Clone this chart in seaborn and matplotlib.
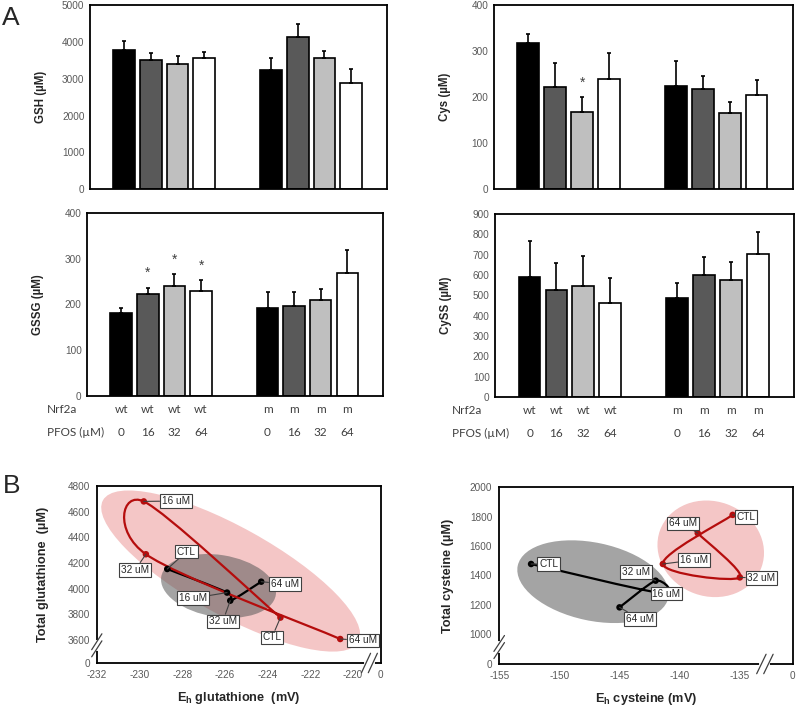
import numpy as np
import pandas as pd
import matplotlib
matplotlib.use('Agg')
import matplotlib.pyplot as plt
import matplotlib.transforms as mtransforms
import seaborn as sns
from matplotlib.patches import Ellipse, PathPatch
from matplotlib.path import Path

# ---------------- panel A data (mean, upper error) ----------------
genotypes = ['wt', 'wt', 'wt', 'wt', 'm', 'm', 'm', 'm']
doses = ['0', '16', '32', '64', '0', '16', '32', '64']
dose_levels = ['0', '16', '32', '64']
bar_colors = ['black', '#595959', '#bfbfbf', 'white']

gsh = [3770, 3505, 3405, 3550, 3225, 4130, 3560, 2890]
gsh_err = [250, 185, 215, 170, 335, 345, 200, 370]
cys = [318, 222, 167, 239, 224, 217, 166, 205]
cys_err = [20, 51, 34, 57, 54, 29, 23, 32]
gssg = [181, 222, 241, 229, 193, 197, 210, 269]
gssg_err = [12, 15, 26, 25, 34, 30, 24, 51]
cyss = [591, 526, 547, 465, 488, 600, 576, 703]
cyss_err = [176, 134, 146, 121, 74, 88, 89, 107]

cys_sig = [False, False, True, False, False, False, False, False]
gssg_sig = [False, True, True, True, False, False, False, False]

# ---------------- panel B data (order: CTL, 16, 32, 64 uM) ----------------
point_names = ['CTL', '16 uM', '32 uM', '64 uM']

glut_wt_eh = [-228.7, -225.9, -225.75, -224.3]
glut_wt_tot = [4153, 3969, 3906, 4054]
glut_m_eh = [-223.4, -229.8, -229.7, -220.6]
glut_m_tot = [3774, 4680, 4268, 3607]

cyst_wt_eh = [-152.35, -141.65, -142.0, -145.0]
cyst_wt_tot = [1478, 1282, 1365, 1184]
cyst_m_eh = [-135.6, -141.4, -135.0, -138.5]
cyst_m_tot = [1811, 1478, 1387, 1687]

# label box centres (data coords)
glut_wt_lab = [(-227.8, 4288), (-227.5, 3925), (-226.1, 3745), (-223.2, 4036)]
glut_m_lab = [(-223.8, 3619), (-228.3, 4683), (-230.2, 4147), (-219.55, 3596)]
cyst_wt_lab = [(-150.9, 1478), (-141.1, 1277), (-143.65, 1422), (-143.3, 1105)]
cyst_m_lab = [(-134.5, 1797), (-138.8, 1505), (-133.2, 1383), (-139.75, 1753)]

sns.set_style('white')
plt.rcParams['font.family'] = ['Liberation Sans', 'DejaVu Sans']
plt.rcParams['mathtext.fontset'] = 'custom'
plt.rcParams['mathtext.rm'] = 'Liberation Sans'
plt.rcParams['mathtext.bf'] = 'Liberation Sans:bold'

TICK_GRAY = '#595959'
RED = '#b50d0d'

fig = plt.figure(figsize=(8, 7.09), dpi=100)

# bar positions: 4 per genotype, gap between groups
positions = [i % 4 + 5.5 * (i // 4) for i in range(len(doses))]


def bar_panel(rect, values, errs, ylabel, ymax, step, sig=None, xrows=False, row_x=-0.14):
    ax = fig.add_axes(rect)
    df = pd.DataFrame({'pos': positions, 'dose': doses, 'val': values})
    sns.barplot(data=df, x='pos', y='val', hue='dose', hue_order=dose_levels,
                palette=dict(zip(dose_levels, bar_colors)), native_scale=True,
                dodge=False, width=0.81, edgecolor='black', linewidth=1.2,
                errorbar=None, legend=False, ax=ax)
    ax.errorbar(positions, values, yerr=[np.zeros(len(errs)), errs], fmt='none',
                ecolor='black', elinewidth=1.2, capsize=1.6, capthick=1.2, zorder=1)
    ax.set_xlim(-1.28, 9.85)
    ax.set_ylim(0, ymax)
    ax.set_yticks(np.arange(0, ymax + 1, step))
    ax.set_xticks([])
    ax.set_xlabel('')
    ax.set_ylabel(ylabel, fontsize=8.3, fontweight='bold', color='#262626')
    ax.yaxis.set_label_coords(-0.145, 0.5)
    ax.tick_params(axis='y', length=0, labelsize=7.2, labelcolor=TICK_GRAY, pad=4)
    for s in ax.spines.values():
        s.set_color('black')
        s.set_linewidth(1.3)
    if sig is not None:
        for p, v, e, flag in zip(positions, values, errs, sig):
            if flag:
                ax.text(p, v + e + 0.04 * ymax, '*', ha='center', va='bottom',
                        fontsize=10, color='#404040')
    if xrows:
        trans = mtransforms.blended_transform_factory(ax.transData, ax.transAxes)
        row_font = ['Lato', 'DejaVu Sans']
        ax.text(row_x, -0.075, 'Nrf2a', transform=ax.transAxes, ha='left', va='center',
                fontsize=8.5, family=row_font, color='#404040')
        ax.text(row_x, -0.2, 'PFOS (µM)', transform=ax.transAxes, ha='left', va='center',
                fontsize=8.5, family=row_font, color='#404040')
        for p, g, d in zip(positions, genotypes, doses):
            ax.text(p, -0.075, g, transform=trans, ha='center', va='center',
                    fontsize=8.5, family=row_font, color='#404040')
            ax.text(p, -0.2, d, transform=trans, ha='center', va='center',
                    fontsize=8.5, family=row_font, color='#404040')
    return ax


bar_panel([0.1125, 0.733, 0.3715, 0.260], gsh, gsh_err, 'GSH (µM)', 5000, 1000)
bar_panel([0.6175, 0.733, 0.3735, 0.260], cys, cys_err, 'Cys (µM)', 400, 100, sig=cys_sig)
bar_panel([0.109, 0.4415, 0.370, 0.2581], gssg, gssg_err, 'GSSG (µM)', 400, 100,
          sig=gssg_sig, xrows=True, row_x=-0.135)
bar_panel([0.619, 0.44, 0.3735, 0.258], cyss, cyss_err, 'CySS (µM)', 900, 100,
          xrows=True, row_x=-0.144)


def smooth_line(ax, xs, ys, color):
    # Excel-style smoothed line through the points (Catmull-Rom as Bezier)
    pts = np.column_stack([xs, ys]).astype(float)
    n = len(pts)
    verts = [pts[0]]
    codes = [Path.MOVETO]
    for i in range(n - 1):
        p0 = pts[max(i - 1, 0)]
        p1 = pts[i]
        p2 = pts[i + 1]
        p3 = pts[min(i + 2, n - 1)]
        verts += [p1 + (p2 - p0) / 6, p2 - (p3 - p1) / 6, p2]
        codes += [Path.CURVE4] * 3
    ax.add_patch(PathPatch(Path(verts, codes), fill=False, edgecolor=color,
                           lw=1.6, zorder=3))


def add_ellipse(ax, cx, cy, w_in, h_in, angle, color, alpha):
    tr = fig.dpi_scale_trans + mtransforms.ScaledTranslation(cx, cy, ax.transData)
    ax.add_patch(Ellipse((0, 0), w_in, h_in, angle=angle, transform=tr,
                         facecolor=color, edgecolor='none', alpha=alpha, zorder=1))


def break_mark(ax, x, y, vertical):
    kw = dict(transform=ax.transAxes, clip_on=False, zorder=10)
    if vertical:
        ax.plot([x, x], [y - 0.02, y + 0.02], color='white', lw=3, **kw)
        for d in (-0.02, 0.02):
            ax.plot([x - 0.018, x + 0.018], [y + d - 0.045, y + d + 0.045],
                    color='#404040', lw=0.9, **kw)
    else:
        ax.plot([x - 0.012, x + 0.012], [y, y], color='white', lw=3, **kw)
        for d in (-0.012, 0.012):
            ax.plot([x + d - 0.016, x + d + 0.016], [y - 0.055, y + 0.055],
                    color='#404040', lw=0.9, **kw)


def label_points(ax, xs, ys, labs):
    for name, x, y, (tx, ty) in zip(point_names, xs, ys, labs):
        ax.annotate(name, xy=(x, y), xytext=(tx, ty), textcoords='data',
                    ha='center', va='center', fontsize=7.2, color='#262626', zorder=6,
                    bbox=dict(boxstyle='square,pad=0.18', fc='white', ec='#404040', lw=0.8),
                    arrowprops=dict(arrowstyle='-', color='#404040', lw=0.8,
                                    shrinkA=0, shrinkB=0))


def redox_panel(rect, wt_x, wt_y, m_x, m_y, wt_lab, m_lab, xlim, ylim, xticks, yticks,
                xlabel, ylabel, ylabel_x, ellipses, ybreak, xbreak):
    ax = fig.add_axes(rect)
    for e in ellipses:
        add_ellipse(ax, *e)
    smooth_line(ax, wt_x, wt_y, 'black')
    smooth_line(ax, m_x, m_y, RED)
    df = pd.DataFrame({'eh': wt_x + m_x, 'tot': wt_y + m_y,
                       'line': ['wt'] * len(wt_x) + ['m'] * len(m_x)})
    sns.scatterplot(data=df, x='eh', y='tot', hue='line',
                    palette={'wt': 'black', 'm': RED}, s=22, linewidth=0,
                    legend=False, ax=ax, zorder=4)
    label_points(ax, wt_x, wt_y, wt_lab)
    label_points(ax, m_x, m_y, m_lab)
    ax.set_xlim(*xlim)
    ax.set_ylim(*ylim)
    ax.set_xticks(list(xticks) + [xlim[1]])
    ax.set_xticklabels([str(t) for t in xticks] + ['0'])
    ax.set_yticks([ylim[0]] + list(yticks))
    ax.set_yticklabels(['0'] + [str(t) for t in yticks])
    ax.tick_params(length=0, labelsize=7.2, labelcolor=TICK_GRAY, pad=5)
    ax.set_xlabel(xlabel, fontsize=9.2, fontweight='bold', labelpad=7)
    ax.set_ylabel(ylabel, fontsize=9.2, fontweight='bold')
    ax.yaxis.set_label_coords(ylabel_x, 0.5)
    for s in ax.spines.values():
        s.set_color('black')
        s.set_linewidth(1.3)
    break_mark(ax, 0, ybreak, True)
    break_mark(ax, xbreak, 0, False)
    return ax


redox_panel([0.121, 0.0649, 0.355, 0.2496], glut_wt_eh, glut_wt_tot, glut_m_eh, glut_m_tot,
            glut_wt_lab, glut_m_lab, (-232, -218.7), (3420, 4800),
            range(-232, -219, 2), range(3600, 4801, 200),
            r'E$_{\mathbf{h}}$ glutathione  (mV)', 'Total glutathione  (µM)', -0.17,
            [(-225.73, 4137, 2.92, 0.88, -29, '#f4c6c6', 1.0),
             (-226.3, 4021, 1.16, 0.62, -9, '#595959', 0.55)],
            0.10, 0.96)

redox_panel([0.624, 0.0635, 0.367, 0.2496], cyst_wt_eh, cyst_wt_tot, cyst_m_eh, cyst_m_tot,
            cyst_wt_lab, cyst_m_lab, (-155, -130.6), (800, 2000),
            range(-155, -134, 5), range(1000, 2001, 200),
            r'E$_{\mathbf{h}}$ cysteine (mV)', 'Total cysteine (µM)', -0.155,
            [(-137.42, 1581, 1.08, 0.95, -20, '#f4c6c6', 1.0),
             (-147.2, 1358, 1.54, 0.78, -12, '#595959', 0.55)],
            0.096, 0.905)

fig.text(0.003, 0.975, 'A', fontsize=19, va='center', ha='left')
fig.text(0.003, 0.315, 'B', fontsize=19, va='center', ha='left')

fig.savefig('out.png', dpi=100)
